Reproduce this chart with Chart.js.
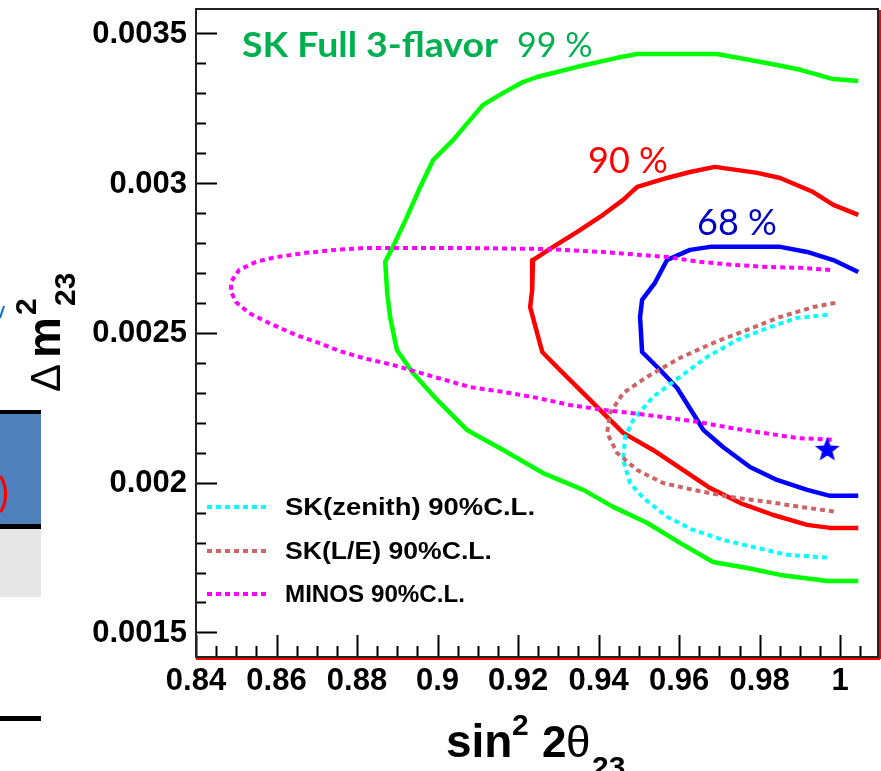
<!DOCTYPE html>
<html>
<head>
<meta charset="utf-8">
<script src="https://cdn.jsdelivr.net/npm/chart.js@4.4.1/dist/chart.umd.min.js"></script>
<style>
  body { margin: 0; background: #fff; }
  canvas { display: block; }
</style>
</head>
<body>
<canvas id="grafico" width="881" height="771"></canvas>
<script>
// eixos
const xMin = 0.84, xMax = 1.0094;
const yMin = 0.001418, yMax = 0.003581;
const xTickVals = [0.84, 0.86, 0.88, 0.90, 0.92, 0.94, 0.96, 0.98, 1.00];
const xTickLabels = ['0.84', '0.86', '0.88', '0.9', '0.92', '0.94', '0.96', '0.98', '1'];
const yTickVals = [0.0015, 0.002, 0.0025, 0.003, 0.0035];
const yTickLabels = ['0.0015', '0.002', '0.0025', '0.003', '0.0035'];

// SK Full 3-flavor 99 %
const verdeX = [1.0045, 0.9983, 0.9901, 0.9843, 0.9776, 0.9694, 0.9496, 0.9446, 0.9347, 0.9247, 0.9212, 0.9163, 0.9113, 0.9081, 0.9039, 0.8989, 0.8957, 0.8924, 0.8889, 0.8870, 0.8875, 0.8882, 0.8899, 0.8939, 0.8999, 0.9073, 0.9163, 0.9262, 0.9362, 0.9436, 0.9520, 0.9602, 0.9684, 0.9769, 0.9851, 0.9968, 1.0045];
const verdeY = [0.003341, 0.003347, 0.003378, 0.003394, 0.003411, 0.003431, 0.003431, 0.003418, 0.003388, 0.003354, 0.003337, 0.003301, 0.003261, 0.003211, 0.003144, 0.003077, 0.002987, 0.002887, 0.002787, 0.002737, 0.002633, 0.002553, 0.002443, 0.002366, 0.002276, 0.002176, 0.002109, 0.002032, 0.001976, 0.001919, 0.001866, 0.001799, 0.001735, 0.001715, 0.001692, 0.001672, 0.001672];

// 90 %
const vermelhoX = [1.0045, 0.9983, 0.9933, 0.9851, 0.9794, 0.9689, 0.9627, 0.9570, 0.9496, 0.9461, 0.9411, 0.9347, 0.9287, 0.9237, 0.9235, 0.9230, 0.9260, 0.9304, 0.9362, 0.9411, 0.9461, 0.9535, 0.9602, 0.9677, 0.9752, 0.9834, 0.9918, 0.9975, 1.0045];
const vermelhoY = [0.002894, 0.002927, 0.002970, 0.003017, 0.003034, 0.003054, 0.003037, 0.003017, 0.002987, 0.002944, 0.002894, 0.002837, 0.002787, 0.002743, 0.002643, 0.002586, 0.002436, 0.002376, 0.002299, 0.002233, 0.002166, 0.002109, 0.002049, 0.001982, 0.001932, 0.001892, 0.001859, 0.001849, 0.001849];

// 68 %
const azulX = [1.0045, 0.9983, 0.9918, 0.9851, 0.9677, 0.9627, 0.9570, 0.9540, 0.9508, 0.9503, 0.9508, 0.9553, 0.9595, 0.9645, 0.9660, 0.9709, 0.9776, 0.9843, 0.9918, 0.9975, 1.0045];
const azulY = [0.002703, 0.002743, 0.002770, 0.002787, 0.002787, 0.002777, 0.002743, 0.002667, 0.002610, 0.002553, 0.002436, 0.002376, 0.002316, 0.002209, 0.002176, 0.002119, 0.002052, 0.002009, 0.001976, 0.001956, 0.001956];

// MINOS 90%C.L.
const minosX = [0.9975, 0.9901, 0.9819, 0.9734, 0.9652, 0.9570, 0.9411, 0.9262, 0.9081, 0.8880, 0.8815, 0.8748, 0.8673, 0.8599, 0.8549, 0.8507, 0.8487, 0.8487, 0.8499, 0.8532, 0.8581, 0.8648, 0.8706, 0.8755, 0.8815, 0.8889, 0.8999, 0.9081, 0.9163, 0.9247, 0.9329, 0.9411, 0.9478, 0.9560, 0.9645, 0.9727, 0.9809, 0.9893, 0.9983];
const minosY = [0.002710, 0.002717, 0.002720, 0.002727, 0.002737, 0.002753, 0.002770, 0.002780, 0.002783, 0.002783, 0.002783, 0.002777, 0.002767, 0.002753, 0.002737, 0.002710, 0.002670, 0.002637, 0.002603, 0.002566, 0.002533, 0.002493, 0.002466, 0.002440, 0.002416, 0.002393, 0.002350, 0.002319, 0.002303, 0.002283, 0.002259, 0.002243, 0.002233, 0.002219, 0.002203, 0.002183, 0.002166, 0.002149, 0.002143];

// SK(zenith) 90%C.L.
const zenithX = [0.9968, 0.9893, 0.9819, 0.9744, 0.9670, 0.9602, 0.9535, 0.9486, 0.9466, 0.9461, 0.9478, 0.9511, 0.9570, 0.9635, 0.9709, 0.9784, 0.9868, 0.9975];
const zenithY = [0.002560, 0.002550, 0.002516, 0.002476, 0.002420, 0.002353, 0.002286, 0.002209, 0.002153, 0.002076, 0.001999, 0.001949, 0.001886, 0.001842, 0.001809, 0.001785, 0.001759, 0.001749];

// SK(L/E) 90%C.L.
const leX = [0.9988, 0.9933, 0.9851, 0.9769, 0.9684, 0.9602, 0.9520, 0.9461, 0.9429, 0.9421, 0.9446, 0.9496, 0.9560, 0.9635, 0.9727, 0.9819, 0.9901, 0.9993];
const leY = [0.002600, 0.002586, 0.002553, 0.002510, 0.002466, 0.002416, 0.002353, 0.002299, 0.002233, 0.002166, 0.002099, 0.002042, 0.001999, 0.001976, 0.001952, 0.001936, 0.001919, 0.001902];

// melhor ajuste
const estrelaX = [0.9968];
const estrelaY = [0.002109];

const legendaNomes = ['SK(zenith) 90%C.L.', 'SK(L/E) 90%C.L.', 'MINOS 90%C.L.'];
const legendaCores = ['#00ffff', '#cc6666', '#ff00ff'];

function pontos(xs, ys) {
    return xs.map((x, i) => ({ x: x, y: ys[i] }));
}

// estrela cheia de 5 pontas
const estrela = document.createElement('canvas');
estrela.width = 28; estrela.height = 28;
(function () {
    const c = estrela.getContext('2d');
    c.fillStyle = '#0000ff';
    c.beginPath();
    for (let i = 0; i < 10; i++) {
        const r = i % 2 === 0 ? 13 : 5.5;
        const ang = -Math.PI / 2 + i * Math.PI / 5;
        const px = 14 + r * Math.cos(ang), py = 14 + r * Math.sin(ang);
        if (i === 0) c.moveTo(px, py); else c.lineTo(px, py);
    }
    c.closePath();
    c.fill();
})();

function linha(label, xs, ys, cor, pontilhada) {
    return {
        label: label,
        data: pontos(xs, ys),
        showLine: true,
        borderColor: cor,
        borderWidth: pontilhada ? 4 : 4.5,
        borderDash: pontilhada ? [5, 4] : [],
        borderCapStyle: 'butt',
        borderJoinStyle: 'round',
        pointRadius: 0,
        tension: 0,
        fill: false
    };
}

const ROOT = '"Liberation Sans", Arial, sans-serif';
const OFFICE = 'Lato, "Open Sans", sans-serif';

// texto esticado na horizontal até a largura pedida
function textoLargura(ctx, texto, x, y, largura) {
    const w = ctx.measureText(texto).width;
    ctx.save();
    ctx.translate(x, y);
    ctx.scale(largura / w, 1);
    ctx.fillText(texto, 0, 0);
    ctx.restore();
}

const moldura = {
    id: 'moldura',
    afterDatasetsDraw(chart) {
        const ctx = chart.ctx;
        const a = chart.chartArea;
        const sx = chart.scales.x, sy = chart.scales.y;
        ctx.save();

        // fragmentos do slide à esquerda
        ctx.fillStyle = '#4f81bd';
        ctx.fillRect(0, 413, 41, 112);
        ctx.fillStyle = '#e6e6e6';
        ctx.fillRect(0, 529, 41, 68);
        ctx.fillStyle = '#000';
        ctx.fillRect(0, 410, 41, 4);
        ctx.fillRect(0, 524, 41, 5);
        ctx.fillRect(0, 716, 41, 5);
        ctx.fillStyle = '#ff0000';
        ctx.font = '40px ' + OFFICE;
        ctx.textAlign = 'right';
        ctx.textBaseline = 'alphabetic';
        ctx.fillText(')', 9, 507);
        ctx.strokeStyle = '#0070c0';
        ctx.lineWidth = 2;
        ctx.beginPath();
        ctx.moveTo(0, 318); ctx.lineTo(4, 306);
        ctx.stroke();

        // ticks
        ctx.strokeStyle = '#000';
        ctx.lineWidth = 2;
        ctx.beginPath();
        for (let i = 0; i <= 33; i++) {
            const v = 0.84 + i * 0.005;
            if (v > xMax) break;
            const px = Math.round(sx.getPixelForValue(v)) + 0.5;
            const len = i % 4 === 0 ? 22 : 11;
            ctx.moveTo(px, a.bottom);
            ctx.lineTo(px, a.bottom - len);
        }
        for (let i = 14; i <= 36; i++) {
            const v = i * 0.0001;
            if (v < yMin || v > yMax) continue;
            const py = Math.round(sy.getPixelForValue(v)) + 0.5;
            const len = i % 5 === 0 ? 21 : 10;
            ctx.moveTo(a.left, py);
            ctx.lineTo(a.left + len, py);
        }
        ctx.stroke();

        // moldura
        ctx.lineWidth = 2;
        ctx.strokeStyle = '#222';
        ctx.strokeRect(a.left, a.top, a.right - a.left, a.bottom - a.top);
        ctx.strokeStyle = '#ff0000';
        ctx.beginPath();
        ctx.moveTo(a.left, a.bottom + 2); ctx.lineTo(a.right + 2, a.bottom + 2);
        ctx.moveTo(a.right + 2, a.top + 1); ctx.lineTo(a.right + 2, a.bottom + 2);
        ctx.stroke();

        // rótulos dos ticks
        ctx.fillStyle = '#000';
        ctx.font = 'bold 31px ' + ROOT;
        ctx.textAlign = 'right';
        ctx.textBaseline = 'middle';
        yTickVals.forEach((v, i) => {
            ctx.fillText(yTickLabels[i], 187, sy.getPixelForValue(v) + 1);
        });
        ctx.textAlign = 'center';
        ctx.textBaseline = 'alphabetic';
        xTickVals.forEach((v, i) => {
            ctx.fillText(xTickLabels[i], sx.getPixelForValue(v), 690);
        });

        // título do eixo x: sin^2 2θ_23
        ctx.textAlign = 'left';
        ctx.font = 'bold 46px ' + ROOT;
        ctx.fillText('sin', 446, 757);
        ctx.font = 'bold 30px ' + ROOT;
        ctx.fillText('2', 512, 735);
        ctx.font = 'bold 44px ' + ROOT;
        ctx.fillText('2', 542, 757);
        ctx.font = '44px ' + ROOT;
        ctx.fillText('\u03b8', 566, 757);
        ctx.font = 'bold 30px ' + ROOT;
        ctx.fillText('23', 592, 777);

        // título do eixo y: Δ m^2_23
        ctx.save();
        ctx.translate(60, 392);
        ctx.rotate(-Math.PI / 2);
        ctx.font = '42px ' + ROOT;
        ctx.fillText('\u0394', 0, 0);
        ctx.font = 'bold 46px ' + ROOT;
        ctx.fillText('m', 34, 0);
        ctx.font = 'bold 30px ' + ROOT;
        ctx.fillText('2', 77, -24);
        ctx.fillText('23', 86, 15);
        ctx.restore();

        // legenda
        const larguras = [250, 207, 180];
        legendaNomes.forEach((nome, i) => {
            const ly = [507, 551, 594][i];
            ctx.strokeStyle = legendaCores[i];
            ctx.lineWidth = 4;
            ctx.setLineDash([5, 4]);
            ctx.beginPath();
            ctx.moveTo(207, ly); ctx.lineTo(270, ly);
            ctx.stroke();
            ctx.setLineDash([]);
            ctx.fillStyle = '#000';
            ctx.font = 'bold 24px ' + ROOT;
            ctx.textBaseline = 'middle';
            textoLargura(ctx, nome, 285, ly + 1, larguras[i]);
        });

        // rótulos coloridos
        ctx.textBaseline = 'alphabetic';
        ctx.fillStyle = '#00b050';
        ctx.font = 'bold 34px ' + OFFICE;
        textoLargura(ctx, 'SK Full 3-flavor', 242, 57, 256);
        ctx.font = '34px ' + OFFICE;
        ctx.fillText('99 %', 517, 57);
        ctx.fillStyle = '#ff0000';
        ctx.font = '36px ' + OFFICE;
        ctx.fillText('90 %', 588, 173);
        ctx.fillStyle = '#0000c0';
        ctx.fillText('68 %', 697, 235);

        ctx.restore();
    }
};

new Chart(document.getElementById('grafico'), {
    type: 'scatter',
    data: {
        datasets: [
            {
                label: 'melhor ajuste',
                data: pontos(estrelaX, estrelaY),
                pointStyle: estrela,
                pointRadius: 14,
                showLine: false
            },
            linha('MINOS 90%C.L.', minosX, minosY, '#ff00ff', true),
            linha('SK(L/E) 90%C.L.', leX, leY, '#cc6666', true),
            linha('SK(zenith) 90%C.L.', zenithX, zenithY, '#00ffff', true),
            linha('68 %', azulX, azulY, '#0000ff', false),
            linha('90 %', vermelhoX, vermelhoY, '#ff0000', false),
            linha('99 %', verdeX, verdeY, '#00ff00', false)
        ]
    },
    options: {
        responsive: false,
        devicePixelRatio: 1,
        animation: false,
        events: [],
        layout: { autoPadding: false, padding: { left: 196, top: 9, right: 3, bottom: 114 } },
        plugins: { legend: { display: false }, tooltip: { enabled: false } },
        scales: {
            x: { type: 'linear', min: xMin, max: xMax, display: false },
            y: { type: 'linear', min: yMin, max: yMax, display: false }
        }
    },
    plugins: [moldura]
});
</script>
</body>
</html>
